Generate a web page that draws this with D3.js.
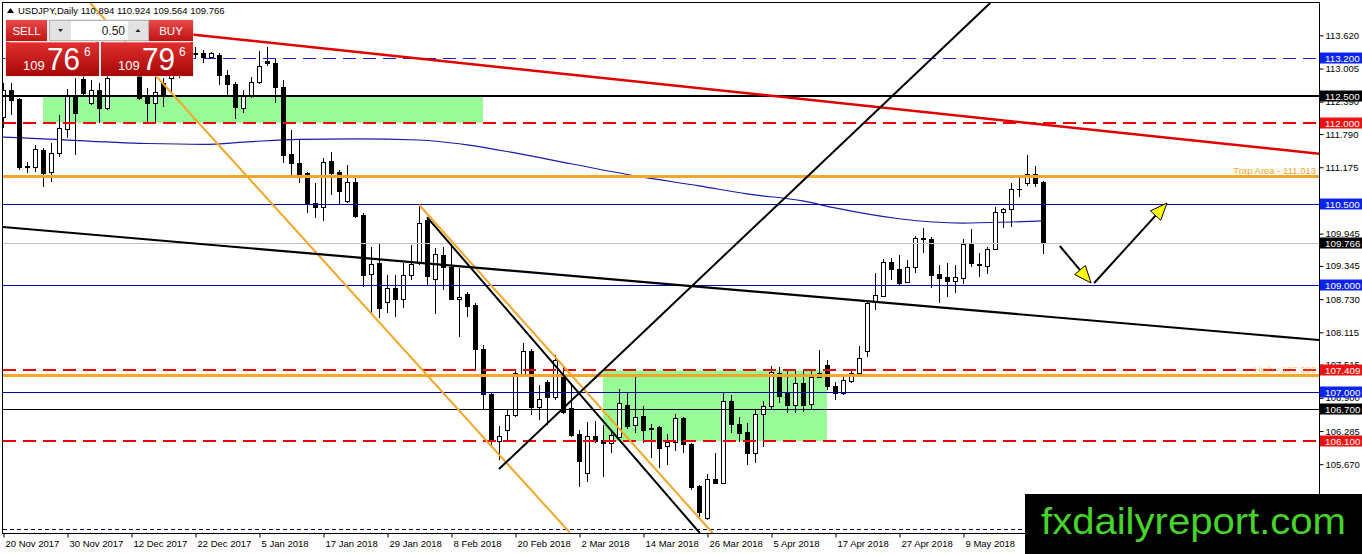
<!DOCTYPE html>
<html>
<head>
<meta charset="utf-8">
<script src="https://cdn.jsdelivr.net/npm/d3@7"></script>
<style>
html, body { margin: 0; padding: 0; background: #fff; overflow: hidden; }
svg { display: block; font-family: "Liberation Sans", Arial, sans-serif; }
</style>
</head>
<body>
<div id="chart"></div>
<script>
// USDJPY daily bars, 20 Nov 2017 .. late May 2018
const opens = [112.11,112.61,112.44,111.18,111.18,111.49,111.09,111.44,111.88,112.51,
  112.81,112.37,112.61,112.27,112.88,113.13,113.26,112.98,112.51,112.37,
  112.74,112.83,113.05,112.94,113.29,113.29,113.22,113.26,112.89,112.72,
  112.27,112.51,112.76,113.14,113.11,112.66,111.42,111.25,111.07,110.51,
  110.44,111.29,111.09,110.55,110.90,110.29,109.20,109.40,108.68,108.94,
  108.73,109.18,109.40,110.20,109.10,109.55,109.33,108.73,108.83,108.62,
  107.81,106.97,106.10,106.30,106.58,107.30,107.77,106.73,107.19,106.92,
  107.29,106.71,106.23,105.51,106.19,106.12,106.06,106.17,106.77,106.40,
  106.56,106.34,106.36,106.01,106.08,106.53,106.04,105.27,104.67,105.40,
  105.32,106.84,106.41,106.27,105.88,106.60,106.75,107.36,106.99,106.77,
  107.18,106.79,107.29,107.51,107.12,106.99,107.21,107.36,107.77,108.68,
  108.79,109.42,109.29,109.05,109.33,109.86,109.84,109.20,109.14,109.07,
  109.12,109.75,109.38,109.34,109.66,110.35,110.40,110.77,110.88,111.05,
  110.894];
const highs = [112.74,112.74,112.46,111.27,111.59,111.53,111.62,112.14,112.63,112.83,
  112.98,112.79,112.74,113.07,113.35,113.44,113.39,113.13,112.64,112.92,
  112.83,113.13,113.16,113.31,113.40,113.35,113.31,113.29,112.98,112.76,
  112.61,112.85,113.33,113.40,113.20,112.79,111.87,111.68,111.09,110.88,
  111.35,111.46,111.12,111.22,110.99,110.33,109.70,109.75,109.18,109.18,
  109.40,109.73,110.48,110.25,109.68,109.70,109.77,109.31,108.86,108.66,
  107.88,106.99,106.38,106.67,107.42,107.92,107.81,107.14,107.23,107.69,
  107.51,107.18,106.30,106.45,106.47,106.40,106.27,107.06,106.99,107.29,
  106.75,106.41,106.38,106.23,106.60,106.54,106.06,105.28,105.49,105.88,
  107.01,106.95,106.54,106.43,106.67,106.84,107.49,107.47,107.40,107.40,
  107.40,107.40,107.79,107.60,107.19,107.32,107.42,107.86,108.71,109.21,
  109.47,109.49,109.55,109.46,109.90,110.05,109.88,109.36,109.40,109.36,
  109.84,110.03,109.59,109.70,110.44,110.42,110.88,110.99,111.40,111.20,
  110.924];
const lows = [111.90,112.14,111.12,111.07,111.09,110.81,110.90,111.36,111.72,111.40,
  112.51,112.33,112.00,112.24,112.86,113.05,112.90,112.42,112.01,112.01,
  112.29,112.55,112.83,112.90,113.20,113.11,113.20,112.70,112.48,112.07,
  112.18,112.46,112.72,113.05,112.37,111.25,111.03,110.88,110.33,110.23,
  110.18,110.66,110.48,110.51,110.23,108.95,108.47,108.38,108.47,108.40,
  108.57,109.08,109.36,108.99,108.45,108.90,108.71,108.03,108.40,107.42,
  106.69,106.03,105.75,106.08,106.54,107.29,106.58,106.49,106.40,106.86,
  106.60,106.17,105.25,105.34,106.06,105.43,105.88,106.16,106.32,106.25,
  106.06,105.78,105.60,105.65,105.91,105.88,105.19,104.69,104.64,105.30,
  105.30,106.25,106.08,105.65,105.69,105.99,106.69,106.80,106.62,106.62,
  106.64,106.69,107.27,107.05,106.86,106.95,107.18,107.32,107.66,108.53,
  108.77,109.08,108.97,109.03,109.21,109.59,108.94,108.66,108.77,108.84,
  109.01,109.33,109.14,109.20,109.64,110.05,110.07,110.62,110.83,110.81,
  109.564];
const closes = [112.61,112.42,111.18,111.20,111.51,111.07,111.44,111.90,112.51,112.18,
  112.55,112.61,112.27,112.83,113.13,113.26,113.01,112.46,112.37,112.57,
  112.51,112.98,112.94,113.16,113.28,113.22,113.29,112.89,112.72,112.29,
  112.51,112.76,113.05,113.11,112.66,111.40,111.25,111.03,110.51,110.44,
  111.27,111.07,110.73,110.90,110.27,109.18,109.38,108.57,108.94,108.73,
  109.18,109.38,110.14,109.16,109.57,109.33,108.73,108.77,108.60,107.81,
  106.97,106.10,106.19,106.58,107.36,107.77,106.73,106.88,106.92,107.60,
  106.64,106.21,105.73,106.19,106.10,106.06,106.21,106.80,106.38,106.54,
  106.30,106.33,105.97,106.08,106.53,106.04,105.25,104.78,105.40,105.32,
  106.84,106.41,106.25,105.88,106.60,106.75,107.38,106.93,106.77,107.18,
  106.77,107.29,107.36,107.12,106.99,107.23,107.36,107.64,108.66,108.81,
  109.42,109.29,109.03,109.33,109.86,109.84,109.18,109.12,109.07,109.14,
  109.75,109.40,109.37,109.66,110.35,110.40,110.77,110.78,111.05,110.88,
  109.766];

// 200-day moving average (blue curve), sampled at bar indices
const maBars = [0, 5, 18, 25, 31, 37, 44, 52, 58, 64, 71, 80, 87, 93, 100, 104, 112, 120, 126, 130];
const maValues = [111.735, 111.70, 111.615, 111.60, 111.65, 111.69, 111.70, 111.68, 111.59, 111.44,
  111.24, 110.99, 110.83, 110.68, 110.55, 110.42, 110.22, 110.14, 110.16, 110.18];

// x axis labels, one every 8 bars
const dateLabels = ["20 Nov 2017", "30 Nov 2017", "12 Dec 2017", "22 Dec 2017", "5 Jan 2018",
  "17 Jan 2018", "29 Jan 2018", "8 Feb 2018", "20 Feb 2018", "2 Mar 2018", "14 Mar 2018",
  "26 Mar 2018", "5 Apr 2018", "17 Apr 2018", "27 Apr 2018", "9 May 2018"];

// price scale ticks (110.560 sits fully under the 110.500 tag, so it is left out)
const tickValues = [113.620, 113.005, 112.390, 111.790, 111.175, 109.945, 109.345,
  108.730, 108.115, 107.515, 106.900, 106.285, 105.670, 105.055];

// horizontal levels
const levelValues = [113.2, 112.5, 112.0, 111.013, 110.5, 109.766, 109.0, 107.409, 107.32, 107.0, 106.7, 106.1, 104.47];
const levelKinds = ["blueDash", "black", "redDash", "orange", "blue", "price", "blue", "redDash", "orange", "blue", "blackThin", "redDash", "navyDash"];
const levelNotes = ["", "", "", "Trap Area - 111.013", "", "", "", "", "High - 107.386", "", "", "", ""];

// green zones (bar index range, price range)
const zoneStart = [5, 75];
const zoneEnd = [60, 103];
const zoneHigh = [112.5, 107.409];
const zoneLow = [112.0, 106.1];

// trend lines (bar index, price) -> (bar index, price)
const trendKinds = ["red", "orange", "orange", "black", "black", "blackThick"];
const trendI1 = [23, 10.89, 52, 53, 62, 0];
const trendP1 = [113.645, 114.22, 110.48, 110.25, 105.58, 110.067];
const trendI2 = [164.5, 70.89, 88.7, 87.1, 123.4, 164.5];
const trendP2 = [111.424, 104.394, 104.394, 104.394, 114.22, 107.972];

// forecast arrows
const arrowI1 = [132.1, 136.4];
const arrowP1 = [109.715, 109.029];
const arrowI2 = [136.0, 145.5];
const arrowP2 = [109.029, 110.512];

const symbol = "USDJPY,Daily";
const bid = 109.766;
const ask = 109.796;
const lot = "0.50";

// ---------------------------------------------------------------
const w = 1362, h = 554;
const pL = 3, pR = 1319, pT = 3, pB = 533;

const x = d3.scaleLinear().domain([0, 164.5]).range([pL, pR]);
const y = d3.scaleLinear().domain([106.1, 113.2]).range([441, 58]);

const svg = d3.select("#chart").append("svg")
  .attr("width", w).attr("height", h)
  .attr("viewBox", `0 0 ${w} ${h}`);

const defs = svg.append("defs");
defs.append("clipPath").attr("id", "plotClip")
  .append("rect").attr("x", pL).attr("y", pT).attr("width", pR - pL).attr("height", pB - pT);

function grad(id, c1, c2) {
  const g = defs.append("linearGradient").attr("id", id).attr("x1", 0).attr("y1", 0).attr("x2", 0).attr("y2", 1);
  g.append("stop").attr("offset", "0%").attr("stop-color", c1);
  g.append("stop").attr("offset", "100%").attr("stop-color", c2);
}
grad("gHead", "#e84a4a", "#c01414");
grad("gPrice", "#e23030", "#a80606");

svg.append("rect").attr("width", w).attr("height", h).attr("fill", "#fff");

const plot = svg.append("g").attr("clip-path", "url(#plotClip)");

// zones
plot.append("g").selectAll("rect")
  .data(zoneStart.map((s, k) => ({ s, e: zoneEnd[k], hi: zoneHigh[k], lo: zoneLow[k] })))
  .join("rect")
  .attr("x", d => x(d.s))
  .attr("width", d => x(d.e) - x(d.s))
  .attr("y", d => y(d.hi))
  .attr("height", d => y(d.lo) - y(d.hi))
  .attr("fill", "#98fb98");

// moving average
plot.append("path")
  .datum(maBars.map((b, k) => [b, maValues[k]]))
  .attr("fill", "none")
  .attr("stroke", "#1a1aa8")
  .attr("stroke-width", 1.2)
  .attr("d", d3.line().x(d => x(d[0])).y(d => y(d[1])).curve(d3.curveMonotoneX));

// candles
const bars = opens.map((o, k) => ({ k, o, h: highs[k], l: lows[k], c: closes[k] }));
const cg = plot.append("g");
cg.selectAll("line")
  .data(bars)
  .join("line")
  .attr("x1", d => x(d.k) + 0.5).attr("x2", d => x(d.k) + 0.5)
  .attr("y1", d => Math.round(y(d.h))).attr("y2", d => Math.round(y(d.l)))
  .attr("stroke", "#000").attr("stroke-width", 1);
cg.selectAll("rect")
  .data(bars)
  .join("rect")
  .attr("x", d => x(d.k) - 1.5)
  .attr("width", 4)
  .attr("y", d => Math.round(y(Math.max(d.o, d.c))) + 0.5)
  .attr("height", d => Math.max(Math.round(y(Math.min(d.o, d.c))) - Math.round(y(Math.max(d.o, d.c))), 0.01))
  .attr("fill", d => d.c >= d.o ? "#fff" : "#000")
  .attr("stroke", "#000").attr("stroke-width", 1);

// horizontal levels
const kindStyle = {
  blueDash: { stroke: "#1c1cc8", width: 1, dash: "13,7", tag: "#0a24ee" },
  black: { stroke: "#000", width: 2, tag: "#000" },
  redDash: { stroke: "#f00000", width: 2, dash: "13,7", tag: "#ee1111" },
  orange: { stroke: "#f4a62a", width: 3 },
  blue: { stroke: "#0000b4", width: 1, tag: "#0a24ee" },
  price: { stroke: "#c0c0c0", width: 1, tag: "#000" },
  blackThin: { stroke: "#000", width: 1, tag: "#000" },
  navyDash: { stroke: "#000050", width: 1, dash: "4,3" }
};
const levels = levelValues.map((v, k) => ({ v, kind: levelKinds[k], note: levelNotes[k] }));

plot.append("g").selectAll("line")
  .data(levels)
  .join("line")
  .attr("x1", pL).attr("x2", pR)
  .attr("y1", d => Math.round(y(d.v)) + (kindStyle[d.kind].width % 2 ? 0.5 : 0))
  .attr("y2", d => Math.round(y(d.v)) + (kindStyle[d.kind].width % 2 ? 0.5 : 0))
  .attr("stroke", d => kindStyle[d.kind].stroke)
  .attr("stroke-width", d => kindStyle[d.kind].width)
  .attr("stroke-dasharray", d => kindStyle[d.kind].dash || null);

plot.append("g").selectAll("text")
  .data(levels.filter(d => d.note))
  .join("text")
  .attr("x", pR - 3)
  .attr("y", d => y(d.v) - 2)
  .attr("text-anchor", "end")
  .attr("font-size", 9.5)
  .attr("fill", "#f4a62a")
  .attr("opacity", d => d.v < 108 ? 0.6 : 1)
  .text(d => d.note);

// trend lines
const trendStyle = {
  red: { stroke: "#e00000", width: 2.5 },
  orange: { stroke: "#f4a62a", width: 2 },
  black: { stroke: "#000", width: 2 },
  blackThick: { stroke: "#000", width: 2.2 }
};
plot.append("g").selectAll("line")
  .data(trendKinds.map((kind, k) => ({ kind, i1: trendI1[k], p1: trendP1[k], i2: trendI2[k], p2: trendP2[k] })))
  .join("line")
  .attr("x1", d => x(d.i1)).attr("y1", d => y(d.p1))
  .attr("x2", d => x(d.i2)).attr("y2", d => y(d.p2))
  .attr("stroke", d => trendStyle[d.kind].stroke)
  .attr("stroke-width", d => trendStyle[d.kind].width);

// arrows
const ag = plot.append("g");
arrowI1.forEach((i1, k) => {
  const X1 = x(i1), Y1 = y(arrowP1[k]), X2 = x(arrowI2[k]), Y2 = y(arrowP2[k]);
  const dx = X2 - X1, dy = Y2 - Y1, L = Math.hypot(dx, dy), ux = dx / L, uy = dy / L;
  const hl = 17, hw = 7;
  const bx = X2 - ux * hl, by = Y2 - uy * hl;
  ag.append("line").attr("x1", X1).attr("y1", Y1).attr("x2", bx + ux * 2).attr("y2", by + uy * 2)
    .attr("stroke", "#000").attr("stroke-width", 2);
  ag.append("polygon")
    .attr("points", [[X2, Y2], [bx - uy * hw, by + ux * hw], [bx + uy * hw, by - ux * hw]].map(p => p.join(",")).join(" "))
    .attr("fill", "#ffff00").attr("stroke", "#000").attr("stroke-width", 1);
});

// frame
svg.append("rect")
  .attr("x", pL - 0.5).attr("y", pT - 0.5)
  .attr("width", pR - pL + 1).attr("height", pB - pT + 1)
  .attr("fill", "none").attr("stroke", "#000").attr("stroke-width", 1);

// right price axis
const yAxis = svg.append("g")
  .attr("transform", `translate(${pR + 0.5},0)`)
  .call(d3.axisRight(y).tickValues(tickValues).tickSize(4).tickFormat(d3.format(".3f")));
yAxis.select(".domain").remove();
yAxis.selectAll("text").attr("font-size", 9.5).attr("font-family", "Liberation Sans, Arial, sans-serif").attr("fill", "#000").attr("x", 6);
yAxis.selectAll("line").attr("stroke", "#000");

// level tags on the price axis
const tags = svg.append("g").selectAll("g")
  .data(levels.filter(d => kindStyle[d.kind].tag))
  .join("g")
  .attr("transform", d => `translate(${pR + 1},${Math.round(y(d.v))})`);
tags.append("rect")
  .attr("x", 0).attr("y", -5.5).attr("width", 42).attr("height", 11)
  .attr("fill", d => kindStyle[d.kind].tag);
tags.append("text")
  .attr("x", 5).attr("y", 3.5)
  .attr("font-size", 9.8).attr("fill", "#fff")
  .text(d => d.v.toFixed(3));

// bottom date axis
const xAxis = svg.append("g")
  .attr("transform", `translate(0,${pB + 0.5})`)
  .call(d3.axisBottom(x).tickValues(dateLabels.map((d, k) => k * 8)).tickSize(4).tickFormat((d, k) => dateLabels[k]));
xAxis.select(".domain").remove();
xAxis.selectAll(".tick line").attr("transform", "translate(0.5,0)").attr("stroke", "#000");
xAxis.selectAll("text").attr("font-size", 9.5).attr("font-family", "Liberation Sans, Arial, sans-serif")
  .attr("text-anchor", "start").attr("x", 2).attr("fill", "#000");

// title
const last = bars[bars.length - 1];
svg.append("path").attr("d", "M7,13 L10.5,8 L14,13 Z").attr("fill", "#000");
svg.append("text").attr("x", 18).attr("y", 14).attr("font-size", 9.5).attr("fill", "#000")
  .text(`${symbol}  ${last.o.toFixed(3)} ${last.h.toFixed(3)} ${last.l.toFixed(3)} ${last.c.toFixed(3)}`);

// one-click trading panel
const panel = svg.append("g");
panel.append("rect").attr("x", 5).attr("y", 19).attr("width", 189).attr("height", 58).attr("fill", "#d8d8d8").attr("opacity", 0.5);
panel.append("rect").attr("x", 6).attr("y", 20).attr("width", 41).attr("height", 21).attr("fill", "url(#gHead)");
panel.append("rect").attr("x", 149).attr("y", 20).attr("width", 44).attr("height", 21).attr("fill", "url(#gHead)");
panel.append("text").attr("x", 26.5).attr("y", 35).attr("text-anchor", "middle").attr("font-size", 11.5).attr("fill", "#fff").text("SELL");
panel.append("text").attr("x", 171).attr("y", 35).attr("text-anchor", "middle").attr("font-size", 11.5).attr("fill", "#fff").text("BUY");
panel.append("rect").attr("x", 49.5).attr("y", 20.5).attr("width", 99).attr("height", 20).attr("fill", "#fff").attr("stroke", "#b4b4b4");
panel.append("rect").attr("x", 50).attr("y", 21).attr("width", 21).attr("height", 19).attr("fill", "#e2e2e2");
panel.append("rect").attr("x", 128).attr("y", 21).attr("width", 20).attr("height", 19).attr("fill", "#e2e2e2");
panel.append("path").attr("d", "M58,29 L63,29 L60.5,32 Z").attr("fill", "#222");
panel.append("path").attr("d", "M135.5,32 L140.5,32 L138,29 Z").attr("fill", "#222");
panel.append("text").attr("x", 125).attr("y", 35).attr("text-anchor", "end").attr("font-size", 12).attr("fill", "#222").text(lot);

function priceBox(x0, width, price) {
  const s = price.toFixed(3);
  const big = s.slice(4, 6), small = s.slice(6), head = s.slice(0, 3);
  panel.append("rect").attr("x", x0).attr("y", 42).attr("width", width).attr("height", 34).attr("fill", "url(#gPrice)");
  panel.append("line").attr("x1", x0 + 3).attr("x2", x0 + width - 3).attr("y1", 42.5).attr("y2", 42.5).attr("stroke", "#f07070");
  panel.append("text").attr("x", x0 + 17).attr("y", 70).attr("font-size", 13).attr("fill", "#fff").text(head);
  panel.append("text").attr("x", x0 + 41).attr("y", 70).attr("font-size", 32).attr("fill", "#fff")
    .attr("textLength", 33).attr("lengthAdjust", "spacingAndGlyphs").text(big);
  panel.append("text").attr("x", x0 + 78).attr("y", 56).attr("font-size", 12).attr("fill", "#fff").text(small);
}
priceBox(6, 93, bid);
priceBox(101, 92, ask);

// watermark
svg.append("rect").attr("x", 1025).attr("y", 494).attr("width", 337).attr("height", 60).attr("fill", "#000");
svg.append("text").attr("x", 1041).attr("y", 534).attr("font-size", 37).attr("fill", "#47d32b")
  .attr("textLength", 305).attr("lengthAdjust", "spacingAndGlyphs").text("fxdailyreport.com");
</script>
</body>
</html>
